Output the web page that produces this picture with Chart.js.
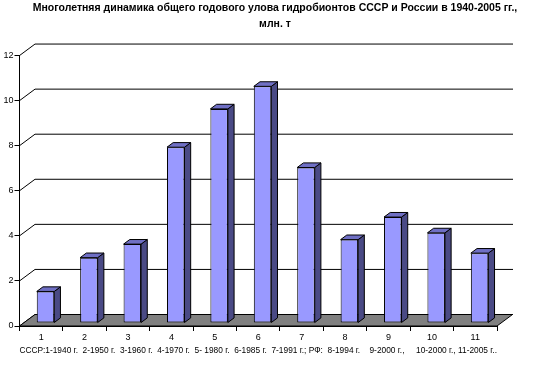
<!DOCTYPE html>
<html>
<head>
<meta charset="utf-8">
<script src="https://cdn.jsdelivr.net/npm/chart.js@4"></script>
<style>
  html, body { margin: 0; padding: 0; background: #fff; }
</style>
</head>
<body>
<canvas id="catchChart" width="541" height="385"></canvas>
<script>
// периоды (номера столбцов) и улов, млн. т
const periods = ['1', '2', '3', '4', '5', '6', '7', '8', '9', '10', '11'];
const totalCatch = [1.4, 2.9, 3.5, 7.8, 9.5, 10.5, 6.9, 3.7, 4.7, 4.0, 3.1];
const yTicks = [0, 2, 4, 6, 8, 10, 12];
const titleLines = ['Многолетняя динамика общего годового улова гидробионтов СССР и России в 1940-2005 гг.,', 'млн. т'];
const periodNote = 'СССР:1-1940 г.  2-1950 г.  3-1960 г.  4-1970 г.  5- 1980 г.  6-1985 г.  7-1991 г.; РФ:  8-1994 г.    9-2000 г.,     10-2000 г., 11-2005 г..';

const FONT = 'Liberation Sans, Arial, sans-serif';
const DEPTH_X = 15.5, DEPTH_Y = -11.5;   // back wall offset
const BAR_DX = 4.3, BAR_DY = -3;         // bars sit a bit inside the floor
const SIDE_X = 6.2, SIDE_Y = -4.6;       // bar thickness

const fake3d = {
    id: 'fake3d',
    beforeDatasetsDraw(chart) {
        const ctx = chart.ctx;
        const y = chart.scales.y;
        const area = chart.chartArea;
        ctx.save();
        ctx.strokeStyle = '#000';
        ctx.lineWidth = 1;
        // back wall grid lines
        yTicks.forEach(v => {
            const py = y.getPixelForValue(v);
            ctx.beginPath();
            ctx.moveTo(area.left, py);
            ctx.lineTo(area.left + DEPTH_X, py + DEPTH_Y);
            ctx.lineTo(area.right + DEPTH_X + 0.5, py + DEPTH_Y);
            ctx.stroke();
        });
        // floor
        const py0 = y.getPixelForValue(0);
        ctx.beginPath();
        ctx.moveTo(area.left, py0);
        ctx.lineTo(area.right, py0);
        ctx.lineTo(area.right + DEPTH_X, py0 + DEPTH_Y);
        ctx.lineTo(area.left + DEPTH_X, py0 + DEPTH_Y);
        ctx.closePath();
        ctx.fillStyle = '#808080';
        ctx.fill();
        ctx.stroke();
        ctx.restore();
    },
    beforeDatasetDraw(chart) {
        chart.ctx.save();
        chart.ctx.translate(BAR_DX, BAR_DY);
    },
    afterDatasetDraw(chart) {
        chart.ctx.restore();
    },
    afterDatasetsDraw(chart) {
        const ctx = chart.ctx;
        ctx.save();
        ctx.strokeStyle = '#000';
        ctx.lineWidth = 1;
        chart.getDatasetMeta(0).data.forEach(bar => {
            const p = bar.getProps(['x', 'y', 'base', 'width'], true);
            const l = p.x - p.width / 2 + BAR_DX;
            const r = p.x + p.width / 2 + BAR_DX;
            const t = p.y + BAR_DY;
            const b = p.base + BAR_DY;
            // side
            ctx.beginPath();
            ctx.moveTo(r, t);
            ctx.lineTo(r + SIDE_X, t + SIDE_Y);
            ctx.lineTo(r + SIDE_X, b + SIDE_Y);
            ctx.lineTo(r, b);
            ctx.closePath();
            ctx.fillStyle = '#4a4a85';
            ctx.fill();
            ctx.stroke();
            // top
            ctx.beginPath();
            ctx.moveTo(l, t);
            ctx.lineTo(l + SIDE_X, t + SIDE_Y);
            ctx.lineTo(r + SIDE_X, t + SIDE_Y);
            ctx.lineTo(r, t);
            ctx.closePath();
            ctx.fillStyle = '#6f6fc4';
            ctx.fill();
            ctx.stroke();
        });
        ctx.restore();
    }
};

const ctx = document.getElementById('catchChart').getContext('2d');
new Chart(ctx, {
    type: 'bar',
    data: {
        labels: periods,
        datasets: [{
            data: totalCatch,
            backgroundColor: '#9999ff',
            borderColor: '#000',
            borderWidth: 1,
            borderSkipped: false,
            barPercentage: 0.403,
            categoryPercentage: 1,
            clip: false
        }]
    },
    options: {
        responsive: false,
        animation: false,
        // negative right padding only shifts the centred title to the right
        layout: { padding: { left: 0, right: -9, top: 0, bottom: 0 } },
        plugins: {
            legend: { display: false },
            tooltip: { enabled: false },
            title: {
                display: true,
                text: titleLines,
                color: '#000',
                font: { family: FONT, size: 10.5, weight: 'bold', lineHeight: 1.55 },
                padding: { top: 0, bottom: 23 }
            }
        },
        scales: {
            x: {
                grid: { offset: true, drawOnChartArea: false, tickLength: 5, color: '#000' },
                border: { color: '#000' },
                ticks: { color: '#000', padding: 1, font: { family: FONT, size: 9 } },
                title: {
                    display: true,
                    text: periodNote,
                    color: '#000',
                    font: { family: FONT, size: 8.8 },
                    padding: { top: 0, bottom: 29 }
                },
                afterFit: s => { s.height = 59; }
            },
            y: {
                min: 0,
                max: 12,
                ticks: { stepSize: 2, color: '#000', padding: 1, font: { family: FONT, size: 9 } },
                grid: { drawOnChartArea: false, tickLength: 5, color: '#000' },
                border: { color: '#000' },
                afterFit: s => { s.width = 19.5; }
            },
            y2: {
                position: 'right',
                ticks: { display: false },
                grid: { display: false },
                border: { display: false },
                afterFit: s => { s.width = 53; }
            }
        }
    },
    plugins: [fake3d]
});
</script>
</body>
</html>
